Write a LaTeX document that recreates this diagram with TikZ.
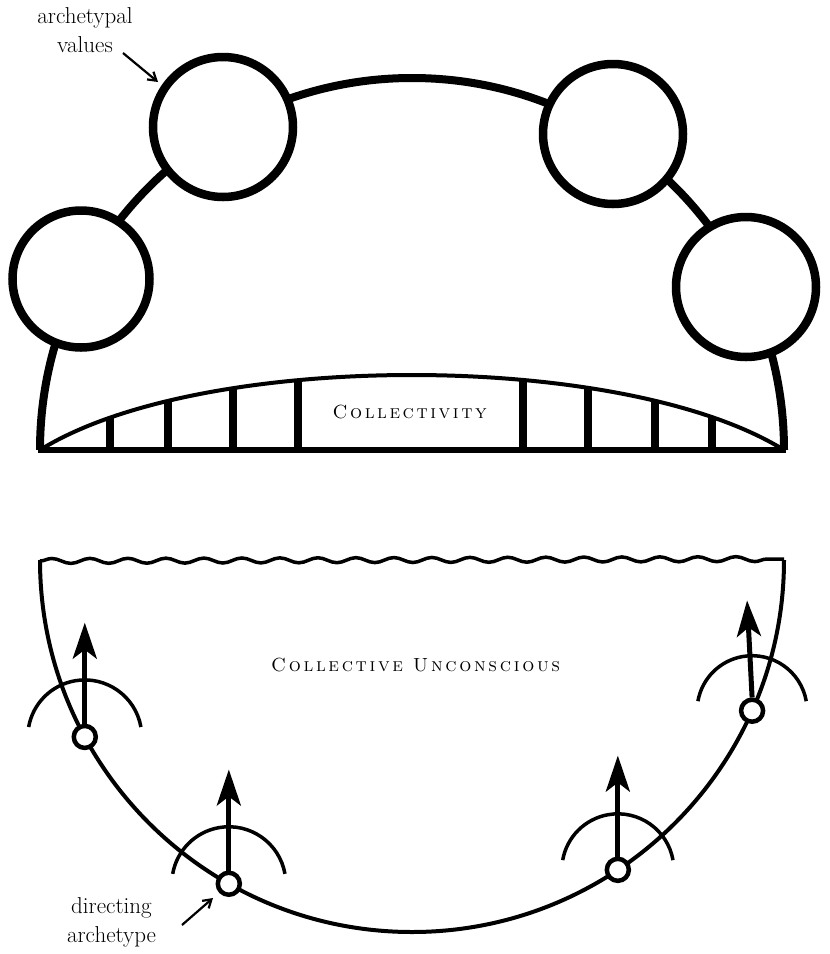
\documentclass[tikz,border=0pt]{standalone}
\usetikzlibrary{arrows.meta,decorations.pathmorphing}
\newdimen\lspk
\def\lsp#1{\ifx#1\relax\else#1\kern\lspk\expandafter\lsp\fi}
\begin{document}
\begin{tikzpicture}[x=1pt,y=1pt,
  dome/.style={line width=8pt},
  bigc/.style={circle,draw,line width=8.5pt,fill=white,minimum size=140pt,inner sep=0pt},
  smallc/.style={circle,draw,line width=4.5pt,fill=white,minimum size=22pt,inner sep=0pt},
  bowl/.style={line width=4pt},
  wave/.style={line width=3.5pt,decorate,decoration={snake,segment length=38pt,amplitude=2.5pt}},
  uparrow/.style={line width=5pt,-{Stealth[length=36pt,width=24pt,inset=9pt]}},
  halo/.style={line width=3.5pt},
  lab/.style={font=\fontsize{23}{29}\selectfont,inner sep=0pt,anchor=base},
  thinarrow/.style={line width=2.2pt,-{Straight Barb[length=8pt,width=10pt]}},
  sc/.style={font=\fontsize{19}{19}\selectfont\scshape,inner sep=0pt}
]
\useasboundingbox (0,0) rectangle (830,-954);
% ---------- upper part ----------
\coordinate (O1) at (412,-450);
\draw[dome] (40,-450) arc[start angle=180,end angle=0,radius=372];
\node[bigc,minimum size=137pt] (v1) at (81,-279) {};
\node[bigc] (v2) at (223,-127) {};
\node[bigc] (v3) at (613,-134) {};
\node[bigc] (v4) at (746,-287) {};
\begin{scope}
  \clip (40,-450) .. controls (200,-350) and (623,-350) .. (784,-450) -- cycle;
  \foreach \x in {110,168,233,298,523,588,655,712}
    \draw[line width=8pt] (\x,-460) -- (\x,-300);
\end{scope}
\draw[line width=4pt] (40,-450) .. controls (200,-350) and (623,-350) .. (784,-450);
\draw[line width=5.5pt] (38,-450) -- (786,-450);
\node[sc] (coll) at (411,-412) {\lspk=2.6pt\lsp Collectivity\relax};
\node[lab] (lv1) at (85,-23) {archetypal};
\node[lab] (lv2) at (85,-52) {values};
\coordinate (lvs) at (123,-53);
\coordinate (lve) at (158,-82);
\draw[thinarrow] (lvs) -- (lve);
% ---------- lower part ----------
\coordinate (O2) at (412,-560);
\draw[bowl] (40,-560) arc[start angle=180,end angle=360,radius=372];
\draw[wave] (40,-561) -- (784,-559);
\node[sc] (cu) at (417,-665) {\lspk=2.7pt\lsp Collective\relax\ \lsp Unconscious\relax};
\foreach \n/\a in {a1/208.4,a2/240.5,a3/303.6,a4/336.1}
  \node[smallc] (\n) at ([shift={(\a:372)}]O2) {};
\foreach \n in {a1,a2,a3}
  \draw[uparrow] (\n.north) -- ++(0,101);
\draw[uparrow] (a4.north) -- ++(-5,97);
\foreach \n/\r in {a1/57,a2/57,a3/56,a4/55}
  \draw[halo] ([shift={(10:\r)}]\n.center) arc[start angle=10,end angle=170,radius=\r];
\node[lab] (da1) at (111.5,-913) {directing};
\node[lab] (da2) at (111.5,-942) {archetype};
\coordinate (das) at (182,-925);
\coordinate (dae) at (213,-898);
\draw[thinarrow] (das) -- (dae);
\end{tikzpicture}
\end{document}
